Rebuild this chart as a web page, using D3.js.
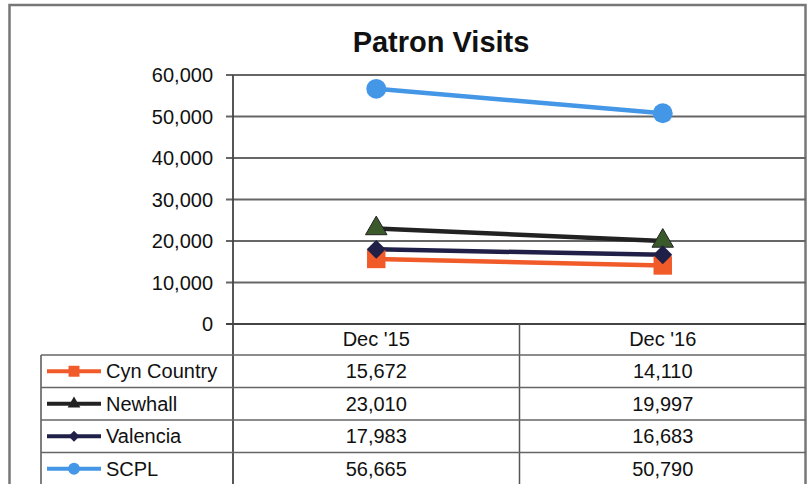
<!DOCTYPE html>
<html>
<head>
  <style>
    body{
      margin:0;
      background:#fff;
      font-family: "Liberation Sans", Arial, sans-serif;
    }
    text{
      fill:#111;
    }
  </style>
  <script src="https://d3js.org/d3.v7.min.js"></script>
</head>
<body>
<div class="chart"></div>
<script>
const months = ["Dec '15", "Dec '16"];
const names = ['Cyn Country', 'Newhall', 'Valencia', 'SCPL'];
const cynCountry = [15672, 14110];
const newhall = [23010, 19997];
const valencia = [17983, 16683];
const scpl = [56665, 50790];
const yTicks = [0, 10000, 20000, 30000, 40000, 50000, 60000];

const width = 807;
const height = 484;

const series = [
  {name: names[0], values: cynCountry, line: '#f15a29', fill: '#f15a29', symbol: d3.symbolSquare, size: 340, keySize: 120, rotate: 0},
  {name: names[1], values: newhall, line: '#222222', fill: '#3b5a2c', keyFill: '#222222', symbol: d3.symbolTriangle, size: 200, keySize: 70, rotate: 0},
  {name: names[2], values: valencia, line: '#1f1f48', fill: '#1f1f48', symbol: d3.symbolSquare, size: 180, keySize: 60, rotate: 45},
  {name: names[3], values: scpl, line: '#4496e6', fill: '#4496e6', symbol: d3.symbolCircle, size: 310, keySize: 110, rotate: 0}
];

const plot = {left: 233, right: 806, top: 75, bottom: 324};

const svg = d3.select('.chart')
  .append('svg')
  .attr('width', width)
  .attr('height', height);

// outer chart frame
svg.append('rect')
  .attr('x', 9.5)
  .attr('y', 5)
  .attr('width', 796)
  .attr('height', 500)
  .attr('fill', 'none')
  .attr('stroke', '#777')
  .attr('stroke-width', 2.5);

svg.append('text')
  .attr('x', 441)
  .attr('y', 52)
  .attr('text-anchor', 'middle')
  .style('font-size', '29px')
  .style('font-weight', 'bold')
  .text('Patron Visits');

const x = d3.scaleBand()
  .domain(months)
  .range([plot.left, plot.right]);

const y = d3.scaleLinear()
  .domain([0, 60000])
  .range([plot.bottom, plot.top]);

// gridlines
svg.append('g')
  .selectAll('line')
  .data(yTicks)
  .enter()
  .append('line')
  .attr('x1', plot.left - 7)
  .attr('x2', plot.right)
  .attr('y1', d => y(d))
  .attr('y2', d => y(d))
  .attr('stroke', d => d === 0 ? '#444' : '#666')
  .attr('stroke-width', 1.8);

// y axis labels
svg.append('g')
  .selectAll('text')
  .data(yTicks)
  .enter()
  .append('text')
  .attr('x', 213)
  .attr('y', d => y(d) + 7)
  .attr('text-anchor', 'end')
  .style('font-size', '20px')
  .text(d => d3.format(',')(d));

// vertical lines: axis, table divider, right edge
const rowH = 32.5;
const tableTop = 355;
const tableBottom = tableTop + names.length * rowH;

svg.append('line')
  .attr('x1', plot.left).attr('x2', plot.left)
  .attr('y1', plot.top).attr('y2', tableBottom + 10)
  .attr('stroke', '#444').attr('stroke-width', 1.8);

svg.append('line')
  .attr('x1', x(months[1])).attr('x2', x(months[1]))
  .attr('y1', plot.bottom).attr('y2', tableBottom + 10)
  .attr('stroke', '#555').attr('stroke-width', 1.5);

svg.append('line')
  .attr('x1', 41).attr('x2', 41)
  .attr('y1', tableTop).attr('y2', tableBottom + 10)
  .attr('stroke', '#555').attr('stroke-width', 1.5);

// table horizontal lines
svg.append('g')
  .selectAll('line')
  .data(d3.range(names.length + 1))
  .enter()
  .append('line')
  .attr('x1', 41)
  .attr('x2', plot.right)
  .attr('y1', i => tableTop + i * rowH)
  .attr('y2', i => tableTop + i * rowH)
  .attr('stroke', '#666')
  .attr('stroke-width', 1.5);

// header
svg.append('g')
  .selectAll('text')
  .data(months)
  .enter()
  .append('text')
  .attr('x', d => x(d) + x.bandwidth() / 2)
  .attr('y', 346)
  .attr('text-anchor', 'middle')
  .style('font-size', '20px')
  .text(d => d);

// lines
const line = d3.line()
  .x((d, i) => x(months[i]) + x.bandwidth() / 2)
  .y(d => y(d));

const plotG = svg.append('g');

series.forEach(s => {
  plotG.append('path')
    .datum(s.values)
    .attr('d', line)
    .attr('fill', 'none')
    .attr('stroke', s.line)
    .attr('stroke-width', 4.5);
});

series.forEach(s => {
  plotG.selectAll(null)
    .data(s.values)
    .enter()
    .append('path')
    .attr('d', d3.symbol().type(s.symbol).size(s.size))
    .attr('transform', (d, i) => `translate(${x(months[i]) + x.bandwidth() / 2},${y(d)}) rotate(${s.rotate})`)
    .attr('fill', s.fill)
    .attr('stroke', s.name === 'Newhall' ? '#222' : 'none')
    .attr('stroke-width', 1);
});

// table rows
const rows = svg.append('g')
  .selectAll('g')
  .data(series)
  .enter()
  .append('g')
  .attr('transform', (d, i) => `translate(0, ${tableTop + i * rowH + rowH / 2})`);

rows.append('line')
  .attr('x1', 47)
  .attr('x2', 101)
  .attr('stroke', d => d.line)
  .attr('stroke-width', 4);

rows.append('path')
  .attr('d', d => d3.symbol().type(d.symbol).size(d.keySize)())
  .attr('transform', d => `translate(74,0) rotate(${d.rotate})`)
  .attr('fill', d => d.keyFill || d.fill);

rows.append('text')
  .attr('x', 106)
  .attr('y', 7)
  .style('font-size', '20px')
  .text(d => d.name);

rows.selectAll('text.val')
  .data(d => d.values)
  .enter()
  .append('text')
  .attr('class', 'val')
  .attr('x', (d, i) => x(months[i]) + x.bandwidth() / 2)
  .attr('y', 7)
  .attr('text-anchor', 'middle')
  .style('font-size', '20px')
  .text(d => d3.format(',')(d));
</script>
</body>
</html>
